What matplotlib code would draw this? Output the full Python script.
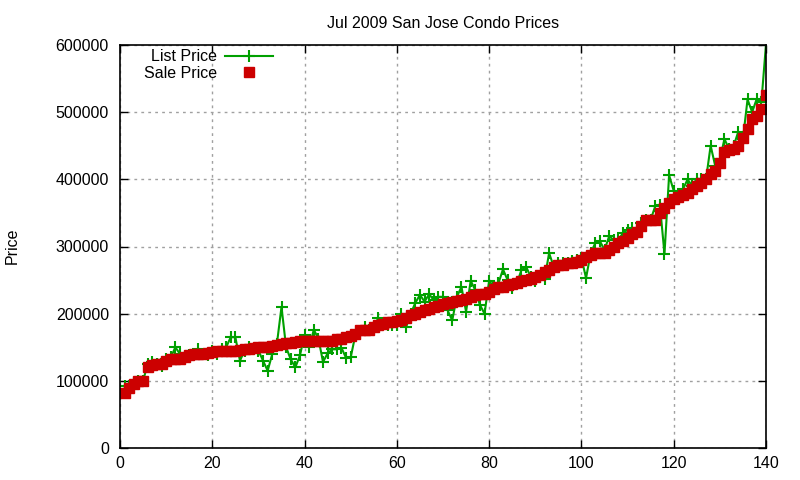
import numpy as np
import matplotlib.pyplot as plt

# condo index (sorted by sale price)
idx = list(range(1, 141))

sale_price = [
    82000, 90000, 95000, 100000, 100000, 120000, 123000, 125000, 125000, 130000,
    132000, 132000, 133000, 135000, 138000, 140000, 140000, 140000, 142000, 143000,
    144000, 145000, 145000, 145000, 145000, 146000, 147000, 148000, 149000, 150000,
    150000, 150000, 152000, 153000, 155000, 156000, 157000, 158000, 160000, 160000,
    160000, 160000, 160000, 160000, 160000, 160000, 162000, 163000, 165000, 167000,
    170000, 175000, 175000, 176000, 180000, 183000, 185000, 187000, 188000, 189000,
    190000, 193000, 198000, 200000, 203000, 205000, 207000, 210000, 212000, 215000,
    216000, 218000, 219000, 220000, 222000, 225000, 228000, 229000, 230000, 232000,
    236000, 240000, 240000, 242000, 244000, 245000, 248000, 250000, 252000, 255000,
    258000, 262000, 265000, 270000, 272000, 273000, 275000, 275000, 277000, 280000,
    285000, 288000, 290000, 290000, 290000, 295000, 300000, 305000, 308000, 312000,
    318000, 322000, 330000, 340000, 340000, 340000, 350000, 358000, 365000, 370000,
    373000, 376000, 380000, 385000, 390000, 395000, 400000, 408000, 412000, 425000,
    440000, 443000, 445000, 450000, 462000, 475000, 490000, 495000, 505000, 525000,
]

list_price = [
    92000, 92000, 97000, 100000, 100000, 125000, 128000, 125000, 122000, 132000,
    135000, 150000, 140000, 135000, 138000, 140000, 148000, 140000, 138000, 145000,
    140000, 148000, 150000, 165000, 165000, 130000, 145000, 150000, 148000, 145000,
    130000, 115000, 140000, 155000, 210000, 150000, 132000, 120000, 138000, 168000,
    150000, 176000, 163000, 128000, 141000, 147000, 147000, 149000, 134000, 135000,
    168000, 170000, 180000, 175000, 180000, 194000, 185000, 183000, 183000, 183000,
    200000, 180000, 200000, 216000, 228000, 218000, 229000, 220000, 225000, 225000,
    205000, 190000, 225000, 240000, 203000, 249000, 235000, 213000, 200000, 249000,
    240000, 245000, 266000, 250000, 238000, 245000, 265000, 270000, 255000, 249000,
    255000, 252000, 290000, 270000, 275000, 275000, 275000, 278000, 280000, 283000,
    253000, 290000, 305000, 308000, 295000, 315000, 310000, 310000, 320000, 325000,
    328000, 322000, 335000, 340000, 340000, 360000, 362000, 289000, 406000, 383000,
    375000, 385000, 400000, 390000, 401000, 400000, 400000, 450000, 420000, 430000,
    460000, 445000, 450000, 471000, 460000, 519000, 500000, 520000, 515000, 601000,
]

plt.rcParams['font.family'] = ['Liberation Sans', 'DejaVu Sans']
plt.rcParams['font.size'] = 11.5

fig = plt.figure(figsize=(8, 4.8), dpi=100)
ax = fig.add_axes([120 / 800, 32 / 480, 646 / 800, 403 / 480])

ax.plot(idx, list_price, color='#00a000', lw=1.5, marker='+', ms=8.5, mew=1.5,
        label='List Price')
ax.plot(idx, sale_price, ls='none', color='#cc0000', marker='s', ms=6.5,
        mec='#cc0000', label='Sale Price')

ax.set_xlim(0, 140)
ax.set_ylim(0, 600000)
ax.set_xticks(np.arange(0, 141, 20))
ax.set_yticks(np.arange(0, 600001, 100000))
ax.tick_params(direction='in', top=True, right=True, length=6, width=1)
ax.tick_params(axis='y', pad=8)
ax.tick_params(axis='x', pad=6)
ax.grid(True, color='#a0a0a0', ls=(0, (2, 3)), lw=1)
for s in ax.spines.values():
    s.set_linewidth(1.2)

ax.set_title('Jul 2009 San Jose Condo Prices', fontsize=11.5, pad=12)
fig.text(12 / 800, 1 - 246 / 480, 'Price', rotation=90, va='center', ha='center')

ax.legend(loc='upper left', frameon=False, markerfirst=False, handlelength=3.0,
          borderaxespad=0.2, bbox_to_anchor=(0.022, 1.013), labelspacing=0.1,
          handletextpad=0.5)

fig.savefig('out.png', dpi=100)
